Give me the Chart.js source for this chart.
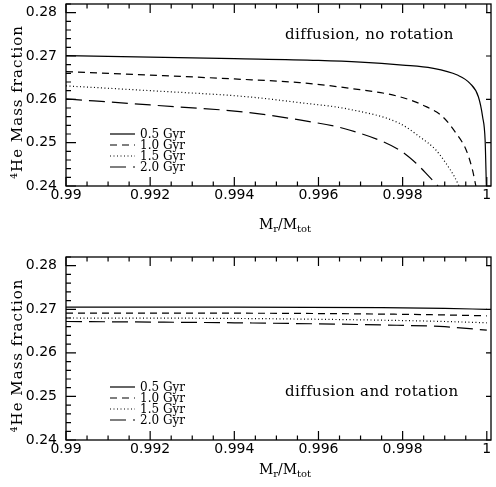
<!DOCTYPE html>
<html>
<head>
<meta charset="utf-8">
<script src="https://cdn.jsdelivr.net/npm/chart.js@4.4.1/dist/chart.umd.min.js"></script>
<style>
html,body{margin:0;padding:0;background:#fff;}
#wrap{position:relative;width:496px;height:487px;}
.painel{position:absolute;left:0;width:496px;}
</style>
</head>
<body>
<div id="wrap">
    <div class="painel" style="top:0;height:243px"><canvas id="semRotacao"></canvas></div>
    <div class="painel" style="top:243px;height:244px"><canvas id="comRotacao"></canvas></div>
</div>
<script>
// ==========================================================
// 4He mass fraction vs Mr/Mtot
// two panels: diffusion without / with rotation
// ==========================================================

// ==========================================================
// Dados
// ==========================================================

const idades = ["0.5 Gyr", "1.0 Gyr", "1.5 Gyr", "2.0 Gyr"];

const xTicks = [0.99, 0.992, 0.994, 0.996, 0.998, 1];
const yTicks = [0.24, 0.25, 0.26, 0.27, 0.28];

// top panel - diffusion, no rotation
const topo05x = [0.99, 0.992, 0.994, 0.996, 0.997, 0.998, 0.9987, 0.9993, 0.9996, 0.9998, 0.9999, 0.99996, 0.99999];
const topo05y = [0.2701, 0.26975, 0.2694, 0.2690, 0.2686, 0.2679, 0.2672, 0.2656, 0.2637, 0.2606, 0.2560, 0.2506, 0.2400];

const topo10x = [0.99, 0.992, 0.994, 0.99555, 0.99673, 0.99792, 0.99856, 0.99895, 0.99927, 0.99951, 0.99966, 0.99974];
const topo10y = [0.2664, 0.2656, 0.2647, 0.26386, 0.26256, 0.26062, 0.25831, 0.2560, 0.25217, 0.24831, 0.2437, 0.2400];

const topo15x = [0.99, 0.992, 0.9943, 0.99555, 0.99673, 0.99792, 0.9984, 0.99879, 0.99903, 0.99923, 0.99934];
const topo15y = [0.2631, 0.2620, 0.2606, 0.25924, 0.25771, 0.25448, 0.25139, 0.24831, 0.24524, 0.24215, 0.2400];

const topo20x = [0.99, 0.992, 0.9943, 0.99555, 0.99673, 0.99792, 0.99832, 0.99863, 0.99884];
const topo20y = [0.2601, 0.2587, 0.2570, 0.25524, 0.25293, 0.24831, 0.24524, 0.24215, 0.2400];

// bottom panel - diffusion and rotation
const baseX = [0.99, 0.994, 0.9975, 0.999, 1.0];
const base05y = [0.2705, 0.2705, 0.2704, 0.2702, 0.2700];
const base10y = [0.2691, 0.2691, 0.2689, 0.2687, 0.2685];
const base15y = [0.2680, 0.2679, 0.2675, 0.2672, 0.2669];
const base20y = [0.2672, 0.2669, 0.2664, 0.2660, 0.2652];

// ==========================================================
// Estilos
// ==========================================================

const TRACOS = [[], [7, 5], [1, 2.5], [16, 7]];

const FONTE_TICK = {family:"DejaVu Sans", size:14};
const FONTE_TEXTO = "DejaVu Serif";

function pontos(xs, ys){
    return xs.map((x, i)=>({x:x, y:ys[i]}));
}

function formatar(v){
    return String(Number(v.toFixed(4)));
}

// ==========================================================
// PLUGIN: frame, inward ticks, legend and labels
// ==========================================================

const molduraPlugin = {

    id:"moldura",

    afterDraw(chart){

        const {ctx, chartArea:a, scales} = chart;
        const cfg = chart.options.plugins.moldura;
        const sx = scales.x;
        const sy = scales.y;

        ctx.save();
        ctx.setLineDash([]);
        ctx.strokeStyle = "#000";
        ctx.fillStyle = "#000";

        // frame
        ctx.lineWidth = 1.3;
        ctx.strokeRect(a.left, a.top, a.right - a.left, a.bottom - a.top);

        // inward ticks
        ctx.lineWidth = 1.2;
        ctx.beginPath();

        // x ticks (bottom and top)
        for(let k = 0; k <= 20; k++){
            const px = sx.getPixelForValue(xTicks[0] + k * 0.0005);
            const len = (k % 4 === 0) ? 9 : 4.5;
            ctx.moveTo(px, a.bottom);
            ctx.lineTo(px, a.bottom - len);
            ctx.moveTo(px, a.top);
            ctx.lineTo(px, a.top + len);
        }

        // y ticks (left, and majors on right)
        for(let k = 0; k <= 21; k++){
            const py = sy.getPixelForValue(yTicks[0] + k * 0.002);
            const major = k % 5 === 0;
            ctx.moveTo(a.left, py);
            ctx.lineTo(a.left + (major ? 10 : 5), py);
            if(major){
                ctx.moveTo(a.right, py);
                ctx.lineTo(a.right - 5, py);
            }
        }

        ctx.stroke();

        // legend
        ctx.font = "12px " + FONTE_TEXTO;
        ctx.textAlign = "left";
        ctx.textBaseline = "middle";

        chart.data.datasets.forEach((ds, i)=>{
            const y = a.top + 130 + i * 11;
            ctx.beginPath();
            ctx.lineWidth = ds.borderWidth;
            ctx.setLineDash(ds.borderDash);
            ctx.moveTo(a.left + 44, y);
            ctx.lineTo(a.left + 69, y);
            ctx.stroke();
            ctx.setLineDash([]);
            ctx.fillText(ds.label, a.left + 74, y + 1);
        });

        // annotation
        ctx.font = "15px " + FONTE_TEXTO;
        ctx.letterSpacing = "0.4px";
        ctx.fillText(cfg.nota, a.left + 219, a.top + cfg.notaY);

        // y title
        ctx.save();
        ctx.translate(18, (a.top + a.bottom) / 2 + 7);
        ctx.rotate(-Math.PI / 2);
        ctx.textAlign = "center";
        ctx.letterSpacing = "1px";
        ctx.font = "15px " + FONTE_TEXTO;
        ctx.fillText("\u2074He Mass fraction", 0, 0);
        ctx.restore();

        // x title  M_r / M_tot
        ctx.letterSpacing = "0px";
        const partes = [
            ["M", 14, 0], ["r", 10, 4], ["/", 14, 0], ["M", 14, 0], ["tot", 10, 4]
        ];
        let largura = 0;
        partes.forEach(p=>{
            ctx.font = p[1] + "px " + FONTE_TEXTO;
            largura += ctx.measureText(p[0]).width;
        });
        let x = 285 - largura / 2;
        const yt = a.bottom + cfg.tituloY;
        partes.forEach(p=>{
            ctx.font = p[1] + "px " + FONTE_TEXTO;
            ctx.fillText(p[0], x, yt + p[2]);
            x += ctx.measureText(p[0]).width;
        });

        ctx.restore();

    }

};

Chart.register(molduraPlugin);

// ==========================================================
// Criar painel
// ==========================================================

function criarPainel(id, series, cfg){

    const canvas = document.getElementById(id);

    return new Chart(canvas,{

        type:"line",

        data:{
            datasets:series.map((s, i)=>({
                label:idades[i],
                data:s,
                borderColor:"#000",
                borderWidth:1.2,
                borderDash:TRACOS[i],
                pointRadius:0,
                fill:false,
                cubicInterpolationMode:"monotone"
            }))
        },

        options:{

            responsive:true,
            maintainAspectRatio:false,
            animation:false,

            layout:{
                padding:{top:cfg.topo, right:5, left:0, bottom:0}
            },

            plugins:{
                legend:{display:false},
                tooltip:{enabled:false},
                moldura:cfg
            },

            scales:{

                x:{
                    type:"linear",
                    min:0.99,
                    max:1.0001,
                    afterBuildTicks:s=>{ s.ticks = xTicks.map(v=>({value:v})); },
                    afterFit:s=>{ s.height = cfg.eixoX; s.paddingLeft = 0; s.paddingRight = 0; },
                    grid:{display:false, drawTicks:false},
                    border:{display:false},
                    ticks:{
                        font:FONTE_TICK,
                        color:"#000",
                        padding:1,
                        autoSkip:false,
                        maxRotation:0,
                        callback:v=>formatar(v)
                    }
                },

                y:{
                    min:0.24,
                    max:0.282,
                    afterBuildTicks:s=>{ s.ticks = yTicks.map(v=>({value:v})); },
                    afterFit:s=>{ s.width = 66; s.paddingTop = 0; s.paddingBottom = 0; },
                    grid:{display:false, drawTicks:false},
                    border:{display:false},
                    ticks:{
                        font:FONTE_TICK,
                        color:"#000",
                        padding:9,
                        callback:v=>v.toFixed(2)
                    }
                }

            }

        }

    });

}

criarPainel("semRotacao", [
    pontos(topo05x, topo05y),
    pontos(topo10x, topo10y),
    pontos(topo15x, topo15y),
    pontos(topo20x, topo20y)
], {topo:4, eixoX:57, nota:"diffusion, no rotation", notaY:31, tituloY:39});

criarPainel("comRotacao", [
    pontos(baseX, base05y),
    pontos(baseX, base10y),
    pontos(baseX, base15y),
    pontos(baseX, base20y)
], {topo:14, eixoX:47, nota:"diffusion and rotation", notaY:135, tituloY:30});
</script>
</body>
</html>
